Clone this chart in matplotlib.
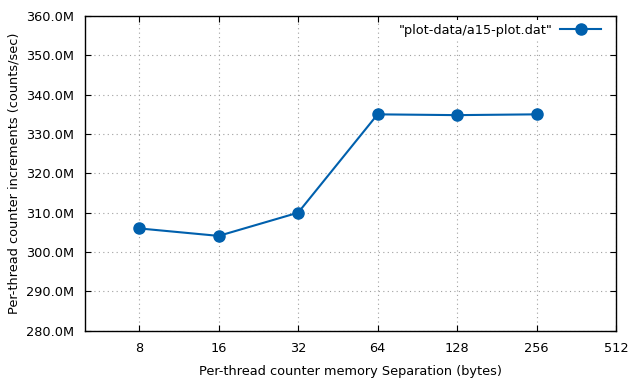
import matplotlib
matplotlib.use("Agg")
from matplotlib import pyplot as plt
from matplotlib.ticker import FixedLocator, FuncFormatter, NullLocator

# counter separation in bytes, and measured rate in millions of counts/sec
separation = [8, 16, 32, 64, 128, 256]
rate_millions = [306.0, 304.1, 310.0, 335.0, 334.8, 335.0]
x_ticks = [8, 16, 32, 64, 128, 256, 512]
y_ticks = [280, 290, 300, 310, 320, 330, 340, 350, 360]

fs = 9.3
fig = plt.figure(figsize=(6.4, 3.84), dpi=100)
ax = fig.add_axes([85.3 / 640, 1 - 330.7 / 384, (616 - 85.3) / 640, (330.7 - 16) / 384])

ax.set_xscale("log", base=2)
ax.set_xlim(5, 512)
ax.set_ylim(280, 360)

ax.plot(separation, rate_millions, color="#0060ad", linewidth=1.5,
        marker="o", markersize=8, label='"plot-data/a15-plot.dat"', zorder=3)

ax.xaxis.set_major_locator(FixedLocator(x_ticks))
ax.xaxis.set_minor_locator(NullLocator())
ax.xaxis.set_major_formatter(FuncFormatter(lambda v, p: "%d" % v))
ax.yaxis.set_major_locator(FixedLocator(y_ticks))
ax.yaxis.set_major_formatter(FuncFormatter(lambda v, p: "%.1fM" % v))

ax.tick_params(which="both", direction="in", top=True, right=True,
               length=4.5, width=0.8, labelsize=fs, pad=8, colors="black")
ax.grid(True, color="#a0a0a0", linestyle=(0, (1, 3)), linewidth=0.8)
for s in ax.spines.values():
    s.set_linewidth(1.0)

ax.set_xlabel("Per-thread counter memory Separation (bytes)", fontsize=fs, labelpad=7)
ax.set_ylabel("Per-thread counter increments (counts/sec)", fontsize=fs, labelpad=4)

leg = ax.legend(loc="upper right", bbox_to_anchor=(1 - 7 / 530, 1),
                markerfirst=False, handlelength=3.2, handletextpad=0.55,
                fontsize=fs, borderaxespad=0.3, borderpad=0.3, fancybox=False)
leg.get_frame().set_facecolor("white")
leg.get_frame().set_edgecolor("none")
leg.get_frame().set_alpha(1.0)

fig.savefig("out.png", dpi=100)
